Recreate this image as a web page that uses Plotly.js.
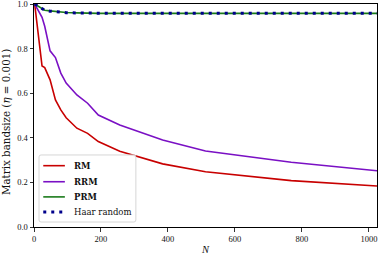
<!DOCTYPE html>
<html><head><meta charset="utf-8">
<script src="https://cdn.plot.ly/plotly-3.0.1.min.js"></script>
<style>html,body{margin:0;padding:0;background:#fff}#c{width:382px;height:258px}</style>
</head><body><div id="c"></div>
<script>
const N = [2, 24, 32, 48, 64, 80, 96, 128, 160, 192, 256, 384, 512, 768, 1024];
const RM = [1.0, 0.722, 0.715, 0.66, 0.57, 0.525, 0.49, 0.443, 0.42, 0.383, 0.34, 0.283, 0.248, 0.208, 0.184];
const RRM = [1.0, 0.94, 0.90, 0.79, 0.76, 0.69, 0.645, 0.592, 0.555, 0.502, 0.457, 0.39, 0.341, 0.29, 0.252];
const PRM = [1.0, 0.978, 0.972, 0.969, 0.966, 0.963, 0.962, 0.960, 0.958, 0.958, 0.958, 0.958, 0.958, 0.958, 0.958];
const HAAR = [1.0, 0.977, 0.972, 0.968, 0.965, 0.963, 0.961, 0.960, 0.959, 0.958, 0.958, 0.958, 0.958, 0.958, 0.958];
const names = ['<b>RM</b>', '<b>RRM</b>', '<b>PRM</b>', 'Haar random'];
const xTicks = [0, 200, 400, 600, 800, 1000];
const yTicks = [0, 0.2, 0.4, 0.6, 0.8, 1.0];

const font = 'DejaVu Serif, serif';
const tfont = 'Liberation Serif, serif';
const styles = [
  {color: '#c80000', width: 1.6},
  {color: '#7a10c4', width: 1.6},
  {color: '#1a7a1a', width: 1.6},
  {color: '#00008b', width: 3, dash: '3px,5px'}
];
const series = [RM, RRM, PRM, HAAR];
const traces = series.map((s, i) => ({x: N, y: s, name: names[i], mode: 'lines', line: styles[i], showlegend: false}));

// custom legend (paper coords of plot area)
const shapes = [];
const annotations = [];
const lx0 = 0.0146, lx1 = 0.297, ly0 = 0.0224, ly1 = 0.323, rx = 0.006, ry = 0.009;
shapes.push({type: 'path', xref: 'paper', yref: 'paper', layer: 'above',
  path: `M ${lx0+rx} ${ly0} L ${lx1-rx} ${ly0} Q ${lx1} ${ly0} ${lx1} ${ly0+ry} L ${lx1} ${ly1-ry} Q ${lx1} ${ly1} ${lx1-rx} ${ly1} L ${lx0+rx} ${ly1} Q ${lx0} ${ly1} ${lx0} ${ly1-ry} L ${lx0} ${ly0+ry} Q ${lx0} ${ly0} ${lx0+rx} ${ly0} Z`,
  fillcolor: 'rgba(255,255,255,0.85)', line: {color: '#d6d6d6', width: 1}});
const ey = [0.275, 0.203, 0.135, 0.067];
names.forEach((nm, i) => {
  shapes.push({type: 'line', xref: 'paper', yref: 'paper', layer: 'above',
    x0: 0.027, x1: 0.090, y0: ey[i], y1: ey[i], line: styles[i]});
  annotations.push({xref: 'paper', yref: 'paper', x: 0.112, y: ey[i], xanchor: 'left', yanchor: 'middle',
    text: nm, showarrow: false, font: {family: font, size: 8.5, color: '#111'}});
});
annotations.push({xref: 'paper', yref: 'paper', x: -0.082, y: 0.47, textangle: -90, xanchor: 'center', yanchor: 'middle',
  text: 'Matrix bandsize (<i>η</i> = 0.001)', showarrow: false, font: {family: font, size: 10.3, color: '#111'}});
annotations.push({xref: 'paper', yref: 'paper', x: 0.5, y: -0.1, xanchor: 'center', yanchor: 'middle',
  text: '<i>N</i>', showarrow: false, font: {family: tfont, size: 10.5, color: '#111'}});

const axisCommon = {
  showgrid: false, zeroline: false, showline: true, linecolor: '#000', linewidth: 1,
  mirror: true, ticks: 'outside', ticklen: 3.5, tickcolor: '#000', tickwidth: 0.8,
  ticklabeloverflow: 'allow', tickfont: {family: tfont, size: 8.5, color: '#111'}
};
const layout = {
  width: 382, height: 258,
  margin: {l: 34, r: 5, t: 4, b: 31},
  paper_bgcolor: '#fff', plot_bgcolor: '#fff',
  showlegend: false,
  shapes: shapes, annotations: annotations,
  xaxis: Object.assign({}, axisCommon, {range: [0, 1024], tickvals: xTicks}),
  yaxis: Object.assign({}, axisCommon, {range: [0, 1], tickvals: yTicks, tickformat: '.1f'})
};
Plotly.newPlot('c', traces, layout, {staticPlot: true, displayModeBar: false});
</script></body></html>
